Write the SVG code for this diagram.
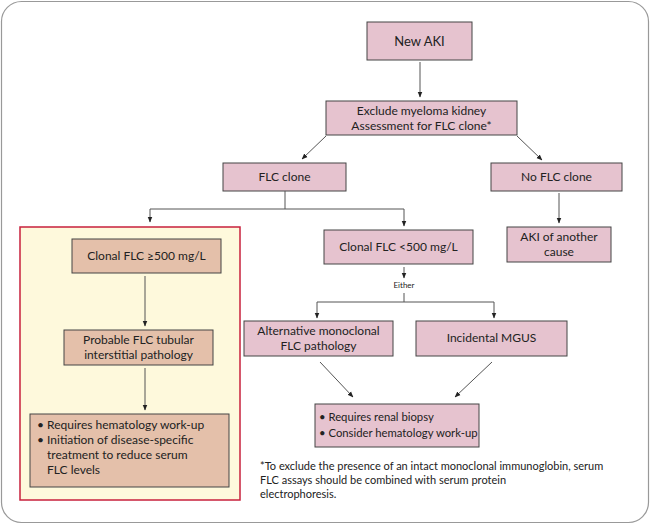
<svg xmlns="http://www.w3.org/2000/svg" width="650" height="524" viewBox="0 0 650 524">
<defs>
<marker id="a" viewBox="0 0 10 10" refX="9" refY="5" markerWidth="6" markerHeight="6" orient="auto"><path d="M0,1 L10,5 L0,9 z" fill="#222"/></marker>
<style>
.n{fill:#e6c3cf;stroke:#444;stroke-width:1}
.b{fill:#e4c0aa;stroke:#444;stroke-width:1}
text{font-family:Lato,"Liberation Sans",sans-serif;font-size:12px;fill:#222}
.c{text-anchor:middle}
.l{fill:none;stroke:#555;stroke-width:1}
</style>
</defs>
<rect x="1.5" y="1.5" width="647" height="521" rx="20" fill="#fff" stroke="#999" stroke-width="1.2"/>
<rect x="20" y="227" width="220" height="273" fill="#fef9dc" stroke="#c8203d" stroke-width="1.5"/>
<g id="newaki"><rect class="n" x="367" y="22" width="105" height="38"/><text class="c" x="419.5" y="46" style="font-size:13px">New AKI</text></g>
<g id="exclude"><rect class="n" x="326" y="101" width="191" height="34"/><text class="c" x="421.5" y="115">Exclude myeloma kidney</text><text class="c" x="421.5" y="130">Assessment for FLC clone*</text></g>
<g id="flcclone"><rect class="n" x="223" y="163" width="123" height="28"/><text class="c" x="284.5" y="181">FLC clone</text></g>
<g id="noflc"><rect class="n" x="491" y="163" width="131" height="28"/><text class="c" x="556.5" y="181">No FLC clone</text></g>
<g id="another"><rect class="n" x="507" y="227" width="104" height="35"/><text class="c" x="559" y="241">AKI of another</text><text class="c" x="559" y="256">cause</text></g>
<g id="hi"><rect class="b" x="72" y="239" width="149" height="34"/><text class="c" x="146.5" y="260">Clonal FLC ≥500 mg/L</text></g>
<g id="probable"><rect class="b" x="64" y="330" width="149" height="35"/><text class="c" x="138.5" y="344">Probable FLC tubular</text><text class="c" x="138.5" y="359">interstitial pathology</text></g>
<g id="requires"><rect class="b" x="30" y="414" width="199" height="73"/><text x="37" y="429">• Requires hematology work-up</text><text x="37" y="444">• Initiation of disease-specific</text><text x="47" y="459">treatment to reduce serum</text><text x="47" y="474">FLC levels</text></g>
<g id="lo"><rect class="n" x="324" y="230" width="149" height="34"/><text class="c" x="398.5" y="251">Clonal FLC &lt;500 mg/L</text></g>
<g id="either"><text class="c" x="404" y="288" style="font-size:8px">Either</text></g>
<g id="alt"><rect class="n" x="244" y="321" width="149" height="35"/><text class="c" x="318.5" y="335">Alternative monoclonal</text><text class="c" x="318.5" y="350">FLC pathology</text></g>
<g id="mgus"><rect class="n" x="416" y="321" width="151" height="35"/><text class="c" x="491.5" y="342">Incidental MGUS</text></g>
<g id="biopsy"><rect class="n" x="315" y="404" width="164" height="43"/><text x="319" y="421" style="font-size:11.3px">• Requires renal biopsy</text><text x="319" y="437" style="font-size:11.3px">• Consider hematology work-up</text></g>
<g id="footnote"><text x="260" y="470" style="font-size:11px">*To exclude the presence of an intact monoclonal immunoglobin, serum</text><text x="260" y="484" style="font-size:11px">FLC assays should be combined with serum protein</text><text x="260" y="498" style="font-size:11px">electrophoresis.</text></g>
<g id="connectors">
<path class="l" d="M420,62 V97" marker-end="url(#a)"/>
<path class="l" d="M326,136 L302,159" marker-end="url(#a)"/>
<path class="l" d="M517,136 L542,160" marker-end="url(#a)"/>
<path class="l" d="M285,191 V209 H150 V222" marker-end="url(#a)"/>
<path class="l" d="M285,209 H404 V226" marker-end="url(#a)"/>
<path class="l" d="M559,193 V223" marker-end="url(#a)"/>
<path class="l" d="M145,276 V326" marker-end="url(#a)"/>
<path class="l" d="M145,368 V410" marker-end="url(#a)"/>
<path class="l" d="M404,267 V278" marker-end="url(#a)"/>
<path class="l" d="M404,293 V302 H317 V318" marker-end="url(#a)"/>
<path class="l" d="M404,302 H494 V318" marker-end="url(#a)"/>
<path class="l" d="M320,362 L353,397" marker-end="url(#a)"/>
<path class="l" d="M492,362 L455,397" marker-end="url(#a)"/>
</g>
</svg>
